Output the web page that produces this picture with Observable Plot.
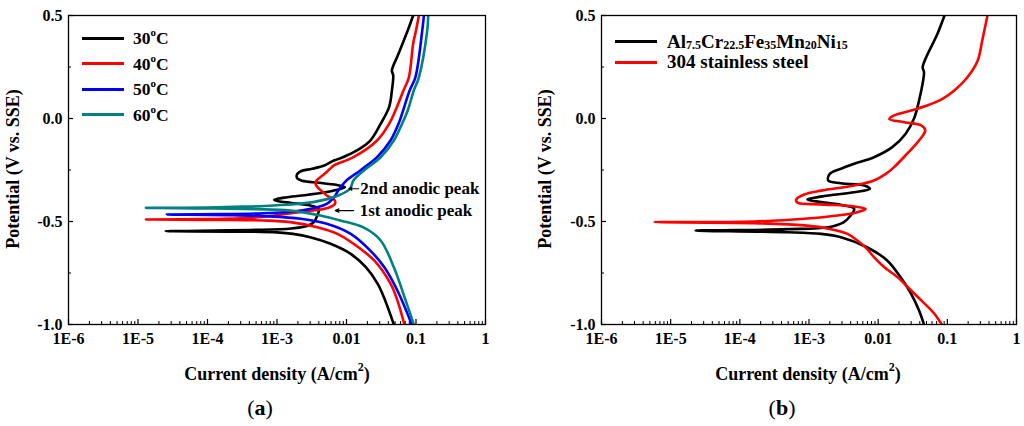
<!DOCTYPE html>
<html>
<head>
<meta charset="utf-8">
<script src="https://cdn.jsdelivr.net/npm/d3@7"></script>
<script src="https://cdn.jsdelivr.net/npm/@observablehq/plot@0.6"></script>
<style>
  body { margin: 0; background: #fff; }
  #wrap { position: relative; width: 1024px; height: 426px; font-family: "Liberation Serif", serif; color: #000; }
  .panel { position: absolute; top: 0; }
  .ytitle { position: absolute; width: 300px; text-align: center; font-weight: bold; font-size: 18px;
            transform: translate(-50%, -50%) rotate(-90deg); white-space: nowrap; }
  .xtitle { position: absolute; width: 400px; text-align: center; font-weight: bold; font-size: 18px;
            transform: translate(-50%, -50%); white-space: nowrap; }
  .xtitle sup { font-size: 12px; position: relative; top: -2px; }
  .tag { position: absolute; font-size: 22px; transform: translate(-50%, -50%); }
  .leg { position: absolute; height: 24px; display: flex; align-items: center; font-weight: bold; white-space: nowrap; }
  .leg .ln { display: inline-block; height: 3px; }
  .leg sup { font-size: 11px; position: relative; top: -1px; }
  .leg sub { font-size: 12px; vertical-align: baseline; position: relative; top: 1px; }
</style>
</head>
<body>
<div id="wrap">
  <div id="chartA" class="panel" style="left:0"></div>
  <div id="chartB" class="panel" style="left:512px"></div>
  <div id="legA"></div>
  <div id="legB"></div>
  <div class="ytitle" style="left:13px; top:169px">Potential (V vs. SSE)</div>
  <div class="ytitle" style="left:545px; top:169px">Potential (V vs. SSE)</div>
  <div class="xtitle" style="left:277px; top:373px">Current density (A/cm<sup>2</sup>)</div>
  <div class="xtitle" style="left:808px; top:373px">Current density (A/cm<sup>2</sup>)</div>
  <div class="tag" style="left:260px; top:408px">(<b>a</b>)</div>
  <div class="tag" style="left:782px; top:408px">(<b>b</b>)</div>
</div>
<script>
// axes
const xTicks = [1e-6, 1e-5, 1e-4, 1e-3, 1e-2, 1e-1, 1];
const xTickLabels = ["1E-6", "1E-5", "1E-4", "1E-3", "0.01", "0.1", "1"];
const yTicks = [-1.0, -0.5, 0.0, 0.5];
const yMinor = [-0.75, -0.25, 0.25];

// (a) temperature series: potential (V vs SSE) and current density (A/cm2), cathodic -> Ecorr -> anodic
const pot30 = [-1.0, -0.883, -0.802, -0.722, -0.657, -0.608, -0.576, -0.56, -0.553, -0.549, -0.547,
  -0.545, -0.541, -0.534, -0.519, -0.503, -0.471, -0.438, -0.422, -0.41, -0.402, -0.395, -0.382, -0.37,
  -0.358, -0.345, -0.333, -0.322, -0.312, -0.302, -0.29, -0.27, -0.256, -0.244, -0.228, -0.204, -0.188, -0.155,
  -0.107, -0.026, 0.055, 0.136, 0.209, 0.233, 0.314, 0.427, 0.5];
const cur30 = [0.048, 0.036, 0.028, 0.019, 0.0115, 0.0059, 0.003, 0.0017, 0.001, 3.2e-4, 2.5e-5,
  8e-5, 4.2e-4, 0.0016, 0.0028, 0.0034, 0.0038, 0.004, 0.003, 0.0016, 0.00105, 9.1e-4, 0.0014, 0.0028,
  0.005, 0.0076, 0.0095, 0.0071, 0.004, 0.0023, 0.00195, 0.00195, 0.0022, 0.0032, 0.0048, 0.0066, 0.0089, 0.0141,
  0.022, 0.031, 0.041, 0.045, 0.047, 0.045, 0.056, 0.076, 0.091];

const pot40 = [-1.0, -0.883, -0.802, -0.689, -0.608, -0.56, -0.528, -0.503, -0.495, -0.492, -0.49,
  -0.488, -0.485, -0.478, -0.471, -0.46, -0.447, -0.433, -0.415, -0.398, -0.385, -0.374, -0.358, -0.34,
  -0.32, -0.301, -0.285, -0.265, -0.244, -0.228, -0.188, -0.107, -0.026, 0.055, 0.136, 0.2, 0.363, 0.427, 0.5];
const cur40 = [0.068, 0.054, 0.043, 0.025, 0.0126, 0.0074, 0.0038, 0.00155, 6.3e-4, 1.6e-4, 1.3e-5,
  1e-4, 3e-4, 6e-4, 9e-4, 0.0016, 0.0033, 0.0055, 0.0068, 0.0068, 0.006, 0.0052, 0.0046, 0.004,
  0.0036, 0.0037, 0.0042, 0.005, 0.0058, 0.0066, 0.0126, 0.0275, 0.041, 0.053, 0.066, 0.079, 0.091, 0.1, 0.11];

const pot50 = [-1.0, -0.835, -0.722, -0.641, -0.56, -0.511, -0.487, -0.475, -0.469, -0.466,
  -0.464, -0.46, -0.455, -0.447, -0.414, -0.374, -0.35, -0.301, -0.252, -0.188, -0.107, -0.026, 0.136, 0.2, 0.427, 0.5];
const cur50 = [0.087, 0.054, 0.035, 0.022, 0.0115, 0.0052, 0.0022, 8e-4, 2e-4, 2.6e-5,
  1.6e-4, 6.3e-4, 0.0013, 0.0022, 0.0052, 0.0069, 0.0076, 0.01, 0.0158, 0.0275, 0.043, 0.056, 0.081, 0.098, 0.123, 0.13];

const pot60 = [-1.0, -0.883, -0.722, -0.592, -0.53, -0.495, -0.471, -0.447, -0.44, -0.437, -0.434,
  -0.432, -0.428, -0.422, -0.406, -0.374, -0.341, -0.301, -0.252, -0.188, -0.107, -0.026, 0.039, 0.136, 0.2, 0.427, 0.5];
const cur60 = [0.093, 0.071, 0.048, 0.031, 0.0178, 0.0081, 0.0042, 0.00155, 5e-4, 1.2e-4, 1.3e-5,
  1e-4, 3.2e-4, 8.9e-4, 0.0033, 0.0076, 0.0112, 0.0126, 0.0178, 0.031, 0.048, 0.063, 0.076, 0.093, 0.11, 0.145, 0.15];

// (b) alloy vs 304 stainless steel
const potAlloy = [-1.0, -0.932, -0.851, -0.77, -0.689, -0.625, -0.576, -0.56, -0.552, -0.544,
  -0.542, -0.537, -0.528, -0.503, -0.471, -0.439, -0.422, -0.406, -0.393, -0.374, -0.358, -0.341,
  -0.325, -0.314, -0.301, -0.269, -0.244, -0.22, -0.188, -0.139, -0.074, 0.0, 0.087, 0.225, 0.249, 0.411, 0.5];
const curAlloy = [0.046, 0.039, 0.03, 0.021, 0.0135, 0.0069, 0.0029, 0.0015, 4.9e-4, 2.3e-5,
  9.1e-5, 4.9e-4, 0.0019, 0.0032, 0.004, 0.0045, 0.0032, 0.0015, 9.5e-4, 0.0019, 0.0045, 0.0076,
  0.0063, 0.0029, 0.0019, 0.002, 0.0029, 0.0045, 0.0087, 0.016, 0.025, 0.033, 0.039, 0.046, 0.044, 0.072, 0.091];

const potSS = [-1.0, -0.948, -0.883, -0.835, -0.77, -0.722, -0.673, -0.633, -0.592, -0.56, -0.536,
  -0.519, -0.508, -0.503, -0.5, -0.487, -0.471, -0.455, -0.439, -0.427, -0.417, -0.408, -0.395, -0.369,
  -0.35, -0.325, -0.301, -0.269, -0.236, -0.172, -0.107, -0.058, -0.034, -0.018, -0.002, 0.015, 0.039,
  0.063, 0.095, 0.136, 0.2, 0.282, 0.379, 0.5];
const curSS = [0.083, 0.065, 0.042, 0.03, 0.019, 0.0123, 0.0087, 0.0069, 0.005, 0.0036, 0.002,
  8.5e-4, 1.6e-4, 5.8e-6, 1.6e-4, 8.5e-4, 0.0026, 0.005, 0.0066, 0.0045, 0.0015, 6.8e-4, 6.5e-4, 8.5e-4,
  0.0015, 0.0045, 0.0087, 0.0129, 0.017, 0.026, 0.039, 0.048, 0.042, 0.024, 0.0145, 0.017, 0.03,
  0.051, 0.085, 0.126, 0.195, 0.275, 0.32, 0.38];

// annotations in (a)
const noteText = ["2nd anodic peak", "1st anodic peak"];
const noteX = [0.0158, 0.0155];
const noteY = [-0.341, -0.447];
const arrowFrom = [0.015, 0.0127];
const arrowTo = [0.0108, 0.0069];

const rows = (pot, cur) => pot.map((e, k) => ({ e: e, i: cur[k] }));
const blank = () => "";

function panel(opts) {
  const minor = [];
  for (let k = 0; k < xTicks.length - 1; k++) {
    for (let m = 2; m <= 9; m++) minor.push(xTicks[k] * m);
  }
  return Plot.plot({
    width: 512,
    height: 426,
    marginLeft: opts.left,
    marginRight: opts.right,
    marginTop: 15,
    marginBottom: 102,
    x: { type: "log", domain: [1e-6, 1] },
    y: { domain: [-1, 0.5] },
    style: { font: "bold 16px 'Liberation Serif', serif", overflow: "visible", background: "transparent" },
    marks: [
      Plot.axisX({ ticks: xTicks, tickSize: -5, tickFormat: blank, label: null, strokeWidth: 1.2 }),
      Plot.axisX({ ticks: minor, tickSize: -3, tickFormat: blank, label: null, strokeWidth: 1 }),
      Plot.axisX({ ticks: xTicks, tickSize: 0, tickPadding: 8, label: null, fontSize: 16, fontWeight: "bold",
        tickFormat: d => xTickLabels[xTicks.indexOf(d)] }),
      Plot.axisY({ ticks: yTicks, tickSize: -5, tickFormat: blank, label: null, strokeWidth: 1.2 }),
      Plot.axisY({ ticks: yMinor, tickSize: -3, tickFormat: blank, label: null, strokeWidth: 1 }),
      Plot.axisY({ ticks: yTicks, tickSize: 0, tickPadding: 6, label: null, fontSize: 16, fontWeight: "bold",
        tickFormat: d => d.toFixed(1) }),
      ...opts.series.map(s => Plot.line(rows(s.pot, s.cur), {
        x: "i", y: "e", stroke: s.color, strokeWidth: 2.6, curve: "catmull-rom", clip: true
      })),
      ...(opts.extra || []),
      Plot.frame({ stroke: "#000", strokeWidth: 1.3 })
    ]
  });
}

const notes = noteText.map((t, k) => ({ t: t, x: noteX[k], y: noteY[k], x1: arrowFrom[k], x2: arrowTo[k] }));

const chartA = panel({
  left: 68, right: 27,
  series: [
    { pot: pot30, cur: cur30, color: "#000000" },
    { pot: pot40, cur: cur40, color: "#ff0000" },
    { pot: pot50, cur: cur50, color: "#0000ff" },
    { pot: pot60, cur: cur60, color: "#008080" }
  ],
  extra: [
    Plot.arrow(notes, { x1: "x1", x2: "x2", y1: "y", y2: "y", stroke: "#000", strokeWidth: 1.2, headLength: 5, headAngle: 50 }),
    Plot.text(notes, { x: "x", y: "y", text: "t", textAnchor: "start", fontSize: 17, fontWeight: "bold", fill: "#000" })
  ]
});
d3.select("#chartA").append(() => chartA);

const chartB = panel({
  left: 89, right: 8,
  series: [
    { pot: potAlloy, cur: curAlloy, color: "#000000" },
    { pot: potSS, cur: curSS, color: "#ff0000" }
  ]
});
d3.select("#chartB").append(() => chartB);

// legends
const legA = [
  { html: "30<sup>o</sup>C", color: "#000000" },
  { html: "40<sup>o</sup>C", color: "#ff0000" },
  { html: "50<sup>o</sup>C", color: "#0000ff" },
  { html: "60<sup>o</sup>C", color: "#008080" }
];
const legB = [
  { html: "Al<sub>7.5</sub>Cr<sub>22.5</sub>Fe<sub>35</sub>Mn<sub>20</sub>Ni<sub>15</sub>", color: "#000000" },
  { html: "304 stainless steel", color: "#ff0000" }
];
function legend(sel, items, x, y0, step, lineW, gap, size) {
  d3.select(sel).selectAll("div").data(items).join("div")
    .attr("class", "leg")
    .style("left", x + "px")
    .style("top", (d, k) => (y0 + k * step - 12) + "px")
    .style("font-size", size + "px")
    .html(d => `<span class="ln" style="width:${lineW}px;background:${d.color};margin-right:${gap}px"></span><span>${d.html}</span>`);
}
legend("#legA", legA, 82, 38, 25.5, 42, 9, 17.5);
legend("#legB", legB, 615, 41.5, 20.5, 42, 10, 19);
</script>
</body>
</html>
